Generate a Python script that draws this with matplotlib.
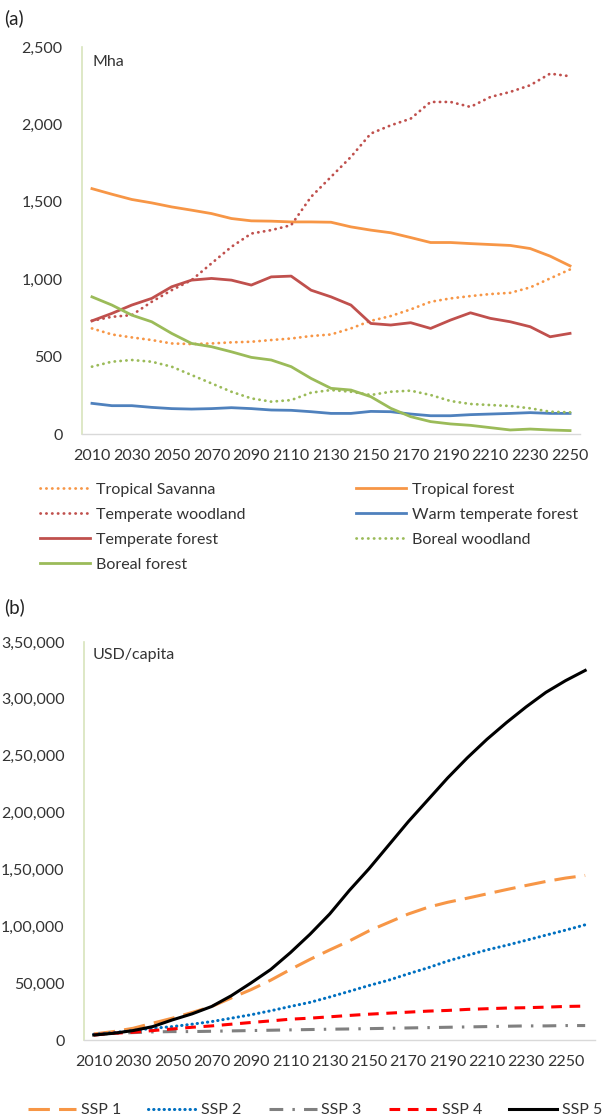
import matplotlib
matplotlib.use("Agg")
import matplotlib.pyplot as plt

plt.rcParams["font.family"] = ["Lato", "DejaVu Sans"]

# ---- panel (a): area by biome, Mha ----
years_a = list(range(2010, 2251, 10))

tropical_savanna = [682, 643, 624, 607, 585, 581, 585, 592, 596, 607, 617, 633, 643,
                    682, 731, 762, 805, 854, 876, 891, 904, 912, 947, 1005, 1063]
tropical_forest = [1585, 1549, 1515, 1493, 1467, 1446, 1424, 1392, 1377, 1375, 1370, 1370, 1368,
                   1338, 1317, 1300, 1269, 1237, 1237, 1230, 1224, 1218, 1198, 1149, 1086]
temperate_woodland = [731, 757, 768, 854, 929, 994, 1102, 1209, 1295, 1317, 1349, 1532, 1661,
                      1790, 1941, 1994, 2037, 2145, 2145, 2113, 2177, 2210, 2253, 2328, 2311]
warm_temperate_forest = [198, 183, 183, 172, 164, 161, 164, 170, 164, 155, 153, 144, 133,
                         133, 146, 144, 129, 118, 118, 125, 129, 133, 138, 133, 133]
temperate_forest = [731, 779, 833, 876, 951, 994, 1005, 994, 962, 1015, 1020, 929, 886,
                    833, 714, 704, 719, 682, 736, 783, 747, 725, 693, 628, 650]
boreal_woodland = [435, 467, 478, 467, 435, 381, 327, 273, 230, 209, 219, 267, 284,
                   273, 252, 273, 280, 252, 213, 194, 187, 181, 166, 144, 140]
boreal_forest = [886, 833, 768, 725, 650, 585, 564, 531, 495, 478, 435, 359, 295,
                 284, 241, 166, 112, 80, 65, 56, 41, 26, 32, 26, 22]

yticks_a = [0, 500, 1000, 1500, 2000, 2500]
yticklabels_a = ["0", "500", "1,000", "1,500", "2,000", "2,500"]

# ---- panel (b): GDP per capita, USD ----
years_b = list(range(2010, 2261, 10))

ssp1 = [5300, 7400, 10300, 14800, 19200, 24200, 29500, 37000, 44300, 52600, 62000, 70900, 79200,
        87100, 96000, 103400, 110800, 116700, 121100, 124700, 128500, 132300, 135900, 139400,
        142400, 144700]
ssp2 = [5000, 6500, 8300, 10300, 11800, 13900, 16200, 19200, 22200, 25700, 29500, 33100, 37800,
        42800, 47900, 52600, 58200, 63500, 69400, 74400, 79200, 83300, 87700, 92200, 96600, 101300]
ssp3 = [4400, 5900, 6500, 7100, 7400, 7400, 7700, 8000, 8300, 8600, 8900, 9200, 9500,
        9700, 10000, 10300, 10600, 10900, 11200, 11500, 11800, 12100, 12400, 12400, 12700, 12700]
ssp4 = [4400, 5900, 6800, 8300, 9700, 11200, 12400, 13900, 15400, 16800, 18300, 19200, 20400,
        21600, 22700, 23600, 24500, 25400, 26000, 26900, 27500, 28100, 28400, 28900, 29500, 29800]
ssp5 = [4400, 5900, 8300, 11800, 17700, 23000, 29500, 39000, 50200, 62000, 76800, 93000, 110800,
        131500, 150600, 171300, 192000, 211200, 230400, 248100, 264400, 279200, 293000, 305700,
        316000, 325000]

yticks_b = [0, 50000, 100000, 150000, 200000, 250000, 300000, 350000]
yticklabels_b = ["0", "50,000", "1,00,000", "1,50,000", "2,00,000", "2,50,000", "3,00,000", "3,50,000"]

TXT = "#333333"
FS = 11.5

fig = plt.figure(figsize=(6.13, 11.2), dpi=100)


def style_axes(ax, n, years, yticks, yticklabels):
    ax.set_xlim(-0.5, n - 0.5)
    ax.set_ylim(yticks[0], yticks[-1])
    idx = list(range(0, len(years), 2))
    ax.set_xticks(idx)
    ax.set_xticklabels([str(years[i]) for i in idx])
    ax.set_yticks(yticks)
    ax.set_yticklabels(yticklabels)
    ax.tick_params(length=0, labelsize=FS, labelcolor=TXT, pad=11)
    ax.tick_params(axis="y", pad=14)
    for s in ["top", "right"]:
        ax.spines[s].set_visible(False)
    ax.spines["left"].set_color("#d8e4bc")
    ax.spines["left"].set_linewidth(1.2)
    ax.spines["bottom"].set_color("#d9d9d9")
    ax.spines["bottom"].set_linewidth(1.0)
    ax.set_facecolor("none")


# panel (a)
ax1 = fig.add_axes([82 / 613, 1 - 434 / 1120, (580 - 82) / 613, (434 - 47) / 1120])
x_a = range(len(years_a))
lw = 2.0
dot = (0, (0.1, 2.0))
l_ts, = ax1.plot(x_a, tropical_savanna, color="#f79646", lw=lw, ls=dot, dash_capstyle="round", label="Tropical Savanna")
l_tf, = ax1.plot(x_a, tropical_forest, color="#f79646", lw=lw, label="Tropical forest")
l_tw, = ax1.plot(x_a, temperate_woodland, color="#c0504d", lw=lw, ls=dot, dash_capstyle="round", label="Temperate woodland")
l_wt, = ax1.plot(x_a, warm_temperate_forest, color="#4f81bd", lw=lw, label="Warm temperate forest")
l_tp, = ax1.plot(x_a, temperate_forest, color="#c0504d", lw=lw, label="Temperate forest")
l_bw, = ax1.plot(x_a, boreal_woodland, color="#9bbb59", lw=lw, ls=dot, dash_capstyle="round", label="Boreal woodland")
l_bf, = ax1.plot(x_a, boreal_forest, color="#9bbb59", lw=lw, label="Boreal forest")
style_axes(ax1, len(years_a), years_a, yticks_a, yticklabels_a)
ax1.text(92 / 613, 1 - 62 / 1120, "Mha", transform=fig.transFigure, fontsize=FS,
         color=TXT, va="center", ha="left")

# legend filled column by column so that rows read like the original
leg_a = [l_ts, l_tw, l_tp, l_bf, l_tf, l_wt, l_bw]
fig.legend(leg_a, [h.get_label() for h in leg_a], ncol=2, loc="upper left",
           bbox_to_anchor=(26 / 613, 1 - 468 / 1120),
           frameon=False, fontsize=FS, labelcolor=TXT, handlelength=3.1, handletextpad=0.4,
           columnspacing=6.9, labelspacing=0.68)

# panel (b)
ax2 = fig.add_axes([84 / 613, 1 - 1040 / 1120, (595 - 84) / 613, (1040 - 642) / 1120])
x_b = range(len(years_b))
lw2 = 2.2
ax2.plot(x_b, ssp1, color="#f79646", lw=lw2, ls=(0, (7, 3)), label="SSP 1")
ax2.plot(x_b, ssp2, color="#0070c0", lw=lw2, ls=(0, (0.1, 1.6)), dash_capstyle="round", label="SSP 2")
ax2.plot(x_b, ssp3, color="#808080", lw=lw2, ls=(0, (4.5, 3, 0.8, 3)), label="SSP 3")
ax2.plot(x_b, ssp4, color="#ff0000", lw=lw2, ls=(0, (3.5, 2.5)), label="SSP 4")
ax2.plot(x_b, ssp5, color="#000000", lw=lw2, label="SSP 5")
style_axes(ax2, len(years_b), years_b, yticks_b, yticklabels_b)
ax2.text(93 / 613, 1 - 655 / 1120, "USD/capita", transform=fig.transFigure, fontsize=FS,
         color=TXT, va="center", ha="left")

handles, labels = ax2.get_legend_handles_labels()
fig.legend(handles, labels, ncol=5, loc="center left", bbox_to_anchor=(14 / 613, 1 - 1110 / 1120),
           frameon=False, fontsize=FS, labelcolor=TXT, handlelength=3.0, handletextpad=0.3,
           columnspacing=1.7)

fig.text(4 / 613, 1 - 18 / 1120, "(a)", fontsize=13.5, color="#222222", va="center", ha="left")
fig.text(4 / 613, 1 - 607 / 1120, "(b)", fontsize=13.5, color="#222222", va="center", ha="left")

fig.savefig("out.png", dpi=100)
